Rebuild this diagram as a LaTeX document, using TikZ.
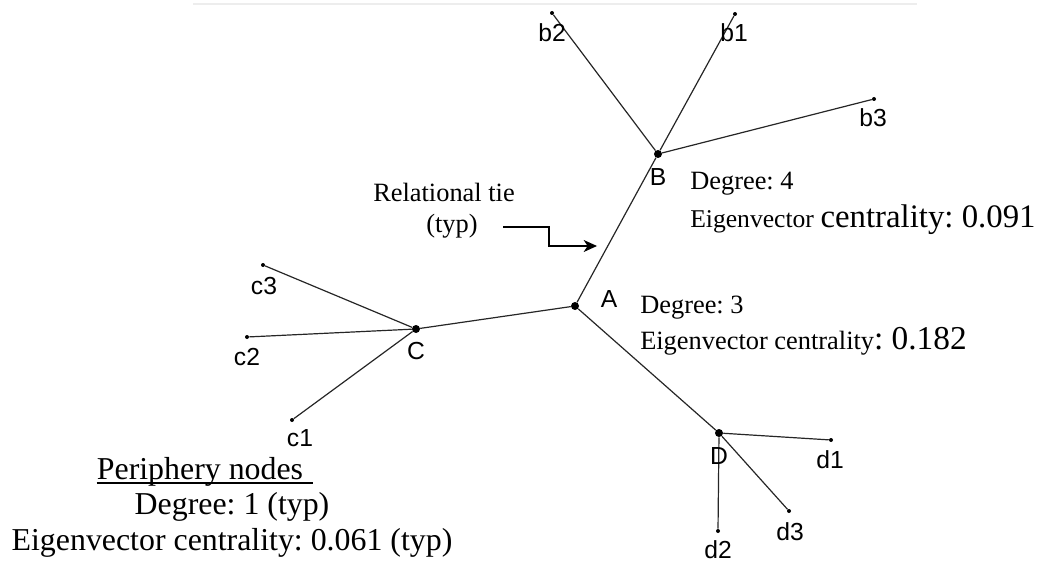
\documentclass[tikz,border=0pt]{standalone}
\usepackage{fontspec}
\setmainfont{Liberation Serif}
\newfontfamily\lblfont{Liberation Sans}
\usetikzlibrary{arrows.meta}
\frenchspacing

\newcommand{\txtnorm}{\fontsize{19.8pt}{23pt}\selectfont}
\newcommand{\txtsmall}{\fontsize{19.2pt}{22pt}\selectfont}
\newcommand{\txtbig}{\fontsize{24.6pt}{29pt}\selectfont}
\newcommand{\txtleg}{\fontsize{23.9pt}{28pt}\selectfont}

\begin{document}
\begin{tikzpicture}[
    x=0.75pt, y=-0.75pt,
    hub/.style={circle, fill=black, inner sep=0pt, minimum size=6pt},
    leaf/.style={circle, fill=black, inner sep=0pt, minimum size=3pt},
    lbl/.style={font=\lblfont\fontsize{18.5pt}{20pt}\selectfont, inner sep=0pt},
    note/.style={font=\txtnorm, inner sep=0pt, anchor=base west},
    legend/.style={font=\txtleg, inner sep=0pt, anchor=base},
    tie/.style={line width=0.9pt, black!85},
    >={Stealth[length=10pt, width=9pt, inset=3pt]}
]
\useasboundingbox (0,0) rectangle (1038,563);

% faint rule along the top edge
\draw[black!7, line width=0.8pt] (193,4) -- (917,4);

% hubs
\node[hub] (A) at (575,306) {};
\node[hub] (B) at (658,154) {};
\node[hub] (C) at (416,329) {};
\node[hub] (D) at (719,433) {};

% periphery nodes
\node[leaf] (b1) at (735,14) {};
\node[leaf] (b2) at (552,13) {};
\node[leaf] (b3) at (874,99) {};
\node[leaf] (c1) at (292,420) {};
\node[leaf] (c2) at (247,337) {};
\node[leaf] (c3) at (263,265) {};
\node[leaf] (d1) at (831,440) {};
\node[leaf] (d2) at (718,531) {};
\node[leaf] (d3) at (789,511) {};

% ties
\draw[tie] (A) -- (B);
\draw[tie] (A) -- (C);
\draw[tie] (A) -- (D);
\foreach \p in {b1,b2,b3}{ \draw[tie] (B) -- (\p); }
\foreach \p in {c1,c2,c3}{ \draw[tie] (C) -- (\p); }
\foreach \p in {d1,d2,d3}{ \draw[tie] (D) -- (\p); }

% node labels
\node[lbl] (Alab) at (609,299) {A};
\node[lbl] (Blab) at (658,177) {B};
\node[lbl] (Clab) at (416,351) {C};
\node[lbl] (Dlab) at (719,456) {D};
\node[lbl] (b1lab) at (734,33) {b1};
\node[lbl] (b2lab) at (552,33) {b2};
\node[lbl] (b3lab) at (873,118) {b3};
\node[lbl] (c1lab) at (300,438) {c1};
\node[lbl] (c2lab) at (247,357) {c2};
\node[lbl] (c3lab) at (264,286) {c3};
\node[lbl] (d1lab) at (830,460) {d1};
\node[lbl] (d2lab) at (718,550) {d2};
\node[lbl] (d3lab) at (790,532) {d3};

% centrality notes
\node[note] (Bdeg) at (690,190) {Degree: 4};
\node[note] (Beig) at (690,227) {{\txtsmall Eigenvector} {\txtbig centrality: 0.091}};
\node[note] (Adeg) at (640,313) {Degree: 3};
\node[note] (Aeig) at (640,349) {Eigenvector centrality{\fontsize{25pt}{29pt}\selectfont: 0.182}};

% relational tie callout
\node[note, anchor=base] (rel) at (444,201) {Relational tie};
\node[note, anchor=base] (typ) at (452,232) {(typ)};
\coordinate (tiestart) at (503,227);
\coordinate (tieend) at (597,246);
\draw[->, line width=0.8pt] (tiestart) -- ++(46,0) |- (tieend);

% periphery legend
\node[legend] (perh) at (200,479) {Periphery nodes};
\draw[line width=0.9pt] ([yshift=-3pt]perh.base west) -- ([xshift=7.5pt, yshift=-3pt]perh.base east);
\node[legend] (perdeg) at (232,514) {Degree: 1 (typ)};
\node[legend] (pereig) at (232,550) {Eigenvector centrality: 0.061 (typ)};

\end{tikzpicture}
\end{document}
